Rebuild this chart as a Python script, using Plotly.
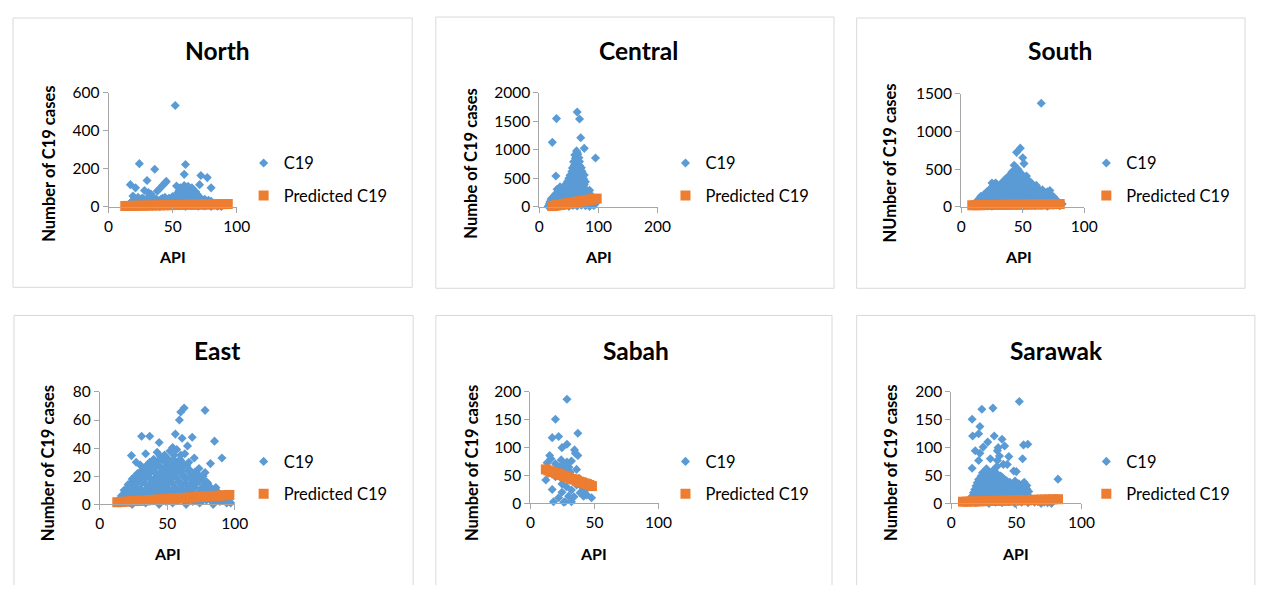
import plotly.graph_objects as go

# The page body keeps its default 8px margin, so the figure is 16px smaller
# than the 1267x593 window and every reference pixel is shifted by 8.
PAGE_W, PAGE_H = 1267, 593
OFF = 8
W, H = PAGE_W - 2 * OFF, PAGE_H - 2 * OFF

# ---------------- data (API, number of C19 cases) ----------------
north_c19 = [
    (52, 532), (24, 227), (36, 198), (60, 223), (59, 171), (72, 165), (77, 154), (30, 139),
    (17, 117), (21, 100), (38, 83), (40, 97), (42, 112), (44, 125), (45, 134), (71, 117),
    (80, 100), (28, 86), (19, 57), (31, 75), (33, 68),
    (53, 110), (56, 100), (59, 112), (62, 95), (65, 88), (68, 80), (55, 85), (58, 75),
    (61, 70), (64, 65), (67, 60), (54, 60), (57, 55), (60, 50), (63, 45), (66, 48),
    (69, 55), (72, 45), (50, 55), (47, 45), (44, 50), (41, 40), (75, 40), (78, 35),
    (35, 50), (30, 45), (26, 45), (23, 50), (20, 40), (80, 30),
    (54, 75), (57, 95), (60, 85), (63, 80), (66, 72), (69, 68), (62, 108), (58, 88), (65, 100),
    (15, 5), (20, 3), (25, 6), (30, 4), (35, 5), (40, 3), (45, 6), (50, 4), (55, 5),
    (60, 3), (65, 6), (70, 4), (75, 5), (80, 3), (85, 4), (88, 2),
    (16, 12), (21, 13), (26, 11), (31, 12), (36, 13), (41, 11), (46, 12), (51, 13),
    (56, 11), (61, 12), (66, 13), (71, 11), (76, 12), (81, 11), (86, 10),
    (17, 20), (22, 18), (27, 22), (32, 19), (37, 21), (42, 18), (47, 22), (52, 20),
    (57, 19), (62, 21), (67, 18), (72, 22), (77, 19), (82, 17),
    (18, 27), (23, 28), (28, 26), (33, 27), (38, 28), (43, 26), (48, 27), (53, 28),
    (58, 26), (63, 27), (68, 28), (73, 26), (78, 25),
    (19, 32), (24, 36), (29, 34), (34, 35), (39, 33), (44, 37), (49, 34), (54, 36),
    (59, 35), (64, 33), (69, 36), (74, 30),
    (21, 42), (27, 44), (32, 42), (37, 41), (42, 45), (48, 43), (53, 42), (58, 44),
    (63, 41), (68, 43), (71, 40),
]
north_pred = [
    (13, 5.0), (16, 5.4), (19, 5.8), (22, 6.2), (25, 6.5), (28, 6.9), (31, 7.3), (34, 7.7),
    (37, 8.1), (40, 8.4), (43, 8.8), (46, 9.2), (49, 9.6), (52, 10.0), (55, 10.3), (58, 10.7),
    (61, 11.1), (64, 11.5), (67, 11.9), (70, 12.2), (73, 12.6), (76, 13.0), (79, 13.4),
    (82, 13.8), (85, 14.1), (88, 14.5), (91, 14.9), (93, 15.2),
]

central_c19 = [
    (64, 1660), (29, 1545), (68, 1537), (22, 1130), (70, 1210), (76, 1025), (95, 855), (28, 540),
    (63, 980), (64, 950), (60, 910), (65, 920), (61, 850), (67, 860),
    (58, 790), (63, 780), (68, 795), (59, 730), (64, 740), (68, 725),
    (56, 680), (61, 690), (66, 675), (71, 685),
    (55, 620), (61, 630), (67, 610), (72, 625),
    (52, 555), (58, 560), (64, 550), (70, 545), (76, 560),
    (50, 500), (56, 510), (62, 495), (68, 505), (75, 490),
    (48, 450), (54, 455), (60, 445), (66, 460), (72, 450), (78, 440),
    (45, 400), (51, 410), (57, 395), (63, 405), (69, 400), (76, 390),
    (35, 350), (30, 310),
    (37, 320), (44, 310), (51, 330), (58, 315), (65, 325), (72, 315), (79, 305), (85, 290),
    (34, 280), (41, 270), (48, 285), (55, 275), (62, 280), (69, 270), (76, 285), (81, 265),
    (27, 220), (34, 230), (41, 225), (48, 235), (55, 220), (62, 230), (69, 220), (76, 230),
    (83, 215), (88, 200),
    (24, 175), (31, 190), (38, 180), (45, 170), (52, 185), (59, 180), (66, 175), (73, 190),
    (80, 180), (85, 170),
    (20, 140), (27, 135), (34, 145), (41, 140), (48, 130), (55, 145), (62, 140), (69, 130),
    (76, 145), (83, 135), (90, 120),
    (18, 90), (25, 110), (32, 95), (39, 105), (46, 100), (53, 90), (60, 110), (67, 95),
    (74, 105), (81, 100), (88, 90),
    (17, 55), (24, 60), (31, 50), (38, 65), (45, 55), (52, 60), (59, 50), (66, 65),
    (73, 55), (80, 60), (87, 50), (94, 45),
    (15, 10), (22, 25), (29, 15), (36, 30), (43, 20), (50, 10), (57, 25), (64, 15),
    (71, 30), (78, 20), (85, 10), (92, 25),
]
central_pred = [
    (22, 15), (25, 20), (28, 26), (31, 31), (34, 36), (37, 41), (40, 46), (43, 52),
    (46, 57), (49, 62), (52, 67), (55, 72), (58, 78), (61, 83), (64, 88), (67, 93),
    (70, 98), (73, 104), (76, 109), (79, 114), (82, 119), (85, 124), (88, 130),
    (91, 135), (94, 140), (97, 145),
]

south_c19 = [
    (65, 1372), (48, 778), (45, 722), (50, 650), (51, 573), (43, 551), (41, 458), (39, 401),
    (49, 401), (46, 500), (44, 470), (62, 231), (72, 218), (68, 188), (25, 316), (29, 295),
    (10, 20), (15, 15), (20, 25), (25, 10), (30, 20), (35, 25), (40, 15), (45, 20),
    (50, 10), (55, 25), (60, 15), (65, 20), (70, 10), (75, 25), (80, 15),
    (12, 50), (17, 45), (22, 55), (27, 50), (32, 45), (37, 55), (42, 50), (47, 45),
    (52, 55), (57, 50), (62, 45), (67, 55), (72, 50), (77, 45), (82, 40),
    (13, 80), (18, 75), (23, 85), (28, 80), (33, 70), (38, 85), (43, 80), (48, 75),
    (53, 85), (58, 80), (63, 70), (68, 80), (73, 75), (78, 80),
    (15, 110), (20, 105), (25, 115), (30, 110), (35, 105), (40, 115), (45, 110),
    (50, 105), (55, 115), (60, 110), (65, 105), (70, 115), (74, 110),
    (16, 140), (21, 135), (26, 145), (31, 140), (36, 130), (41, 145), (46, 140),
    (51, 135), (56, 145), (61, 140), (66, 130), (71, 140), (75, 135),
    (19, 170), (24, 165), (29, 175), (34, 170), (39, 165), (44, 175), (49, 170),
    (54, 165), (59, 175), (64, 170), (68, 165), (72, 175),
    (21, 200), (26, 195), (31, 205), (36, 200), (41, 190), (46, 205), (51, 200),
    (56, 195), (61, 205), (66, 190), (70, 200),
    (23, 230), (28, 225), (33, 235), (38, 230), (43, 225), (48, 235), (53, 230),
    (58, 225), (63, 235), (66, 225),
    (25, 260), (30, 255), (35, 265), (40, 260), (45, 250), (50, 265), (55, 260), (60, 250),
    (27, 290), (32, 285), (37, 295), (42, 290), (47, 285), (52, 295), (57, 290), (61, 285),
    (28, 315), (33, 320), (38, 325), (43, 320), (48, 310), (53, 320), (57, 315),
    (35, 350), (40, 345), (45, 355), (50, 350), (55, 345),
    (37, 385), (42, 380), (47, 390), (52, 375),
    (39, 410), (44, 415), (48, 405), (53, 410),
    (41, 440), (45, 450), (49, 435), (43, 480), (47, 470),
]
south_pred = [
    (9, 22), (12, 23), (15, 23), (18, 24), (21, 25), (24, 25), (27, 26), (30, 27),
    (33, 27), (36, 28), (39, 29), (42, 30), (45, 30), (48, 31), (51, 32), (54, 32),
    (57, 33), (60, 34), (63, 34), (66, 35), (69, 36), (72, 36), (75, 37), (78, 38), (80, 38),
]

east_c19 = [
    (62.5, 68.5), (60, 65.7), (78, 66.9), (59, 60), (31, 48.5), (37, 48.5), (56, 50),
    (61, 47), (68.5, 47.8), (44, 44), (85, 45), (54, 40.5), (65, 41.6), (23.5, 34.7),
    (34, 36), (42.5, 37), (90.5, 33), (27, 30), (82, 29), (73.5, 25.5), (78, 22.6), (26, 19.8),
    (57, 39), (52, 38), (48, 35), (63, 36), (70, 33), (66, 30), (60, 35), (40, 32),
    (30, 28), (75, 18), (80, 15), (86, 12), (88, 8), (91, 5), (94, 2), (97, 1),
    (14, 1), (19, 3), (24, 0), (29, 2), (34, 1), (39, 3), (44, 0), (49, 2), (54, 1),
    (59, 3), (64, 0), (69, 2), (74, 1), (79, 3), (84, 0), (89, 2), (94, 1),
    (16.5, 3), (21.5, 3.5), (26.5, 2.5), (31.5, 3), (36.5, 3.5), (41.5, 2.5), (46.5, 3),
    (51.5, 3.5), (56.5, 2.5), (61.5, 3), (66.5, 3.5), (71.5, 2.5), (76.5, 3), (81.5, 3.5),
    (86.5, 2.5), (91.5, 3), (96, 2),
    (16, 6), (21, 5), (26, 7), (31, 4), (36, 6), (41, 5), (46, 7), (51, 4), (56, 6),
    (61, 5), (66, 7), (71, 4), (76, 6), (81, 5), (86, 6), (91, 4),
    (18.5, 7.5), (23.5, 8), (28.5, 7), (33.5, 7.5), (38.5, 8), (43.5, 7), (48.5, 7.5),
    (53.5, 8), (58.5, 7), (63.5, 7.5), (68.5, 8), (73.5, 7), (78.5, 7.5), (83.5, 8), (88.5, 7),
    (18, 10), (23, 9), (28, 11), (33, 8), (38, 10), (43, 9), (48, 11), (53, 8), (58, 10),
    (63, 9), (68, 11), (73, 8), (78, 10), (83, 9), (88, 8),
    (20.5, 11.5), (25.5, 12), (30.5, 11), (35.5, 11.5), (40.5, 12), (45.5, 11), (50.5, 11.5),
    (55.5, 12), (60.5, 11), (65.5, 11.5), (70.5, 12), (75.5, 11), (80.5, 11.5), (85.5, 11),
    (21, 14), (26, 13), (31, 15), (36, 12), (41, 14), (46, 13), (51, 15), (56, 12),
    (61, 14), (66, 13), (71, 15), (76, 12), (81, 13),
    (23.5, 15.5), (28.5, 16), (33.5, 15), (38.5, 15.5), (43.5, 16), (48.5, 15), (53.5, 15.5),
    (58.5, 16), (63.5, 15), (68.5, 15.5), (73.5, 16), (78.5, 15),
    (24, 18), (29, 17), (34, 19), (39, 16), (44, 18), (49, 17), (54, 19), (59, 16),
    (64, 18), (69, 17), (74, 19), (79, 16),
    (26.5, 19.5), (31.5, 20), (36.5, 19), (41.5, 19.5), (46.5, 20), (51.5, 19), (56.5, 19.5),
    (61.5, 20), (66.5, 19), (71.5, 19.5), (76.5, 20),
    (28, 22), (33, 21), (38, 23), (43, 20), (48, 22), (53, 21), (58, 23), (63, 20),
    (68, 22), (73, 21),
    (30.5, 23.5), (35.5, 24), (40.5, 23), (45.5, 23.5), (50.5, 24), (55.5, 23), (60.5, 23.5),
    (65.5, 24), (70.5, 23),
    (32, 26), (37, 25), (42, 27), (47, 24), (52, 26), (57, 25), (62, 27), (67, 24),
    (34.5, 27.5), (39.5, 28), (44.5, 27), (49.5, 27.5), (54.5, 28), (59.5, 27), (64.5, 27.5),
    (37, 30), (42, 29), (47, 31), (52, 28), (57, 30), (62, 29),
    (39.5, 31.5), (44.5, 32), (49.5, 31), (54.5, 31.5), (59.5, 32),
    (45, 34), (50, 33), (55, 35),
]
east_pred = [
    (13, 1.5), (16, 1.7), (19, 1.9), (22, 2.1), (25, 2.3), (28, 2.4), (31, 2.6), (34, 2.8),
    (37, 3.0), (40, 3.2), (43, 3.4), (46, 3.6), (49, 3.7), (52, 3.9), (55, 4.1), (58, 4.3),
    (61, 4.5), (64, 4.7), (67, 4.9), (70, 5.0), (73, 5.2), (76, 5.4), (79, 5.6), (82, 5.8),
    (85, 6.0), (88, 6.2), (91, 6.3), (94, 6.5), (96, 6.7),
]

sabah_c19 = [
    (28.5, 187), (19.5, 151), (22, 120), (17, 118), (37, 126), (28.5, 106), (24.6, 100),
    (34.4, 96), (37, 86), (15, 86), (24, 78), (28.5, 74), (36, 61), (12, 42), (17, 25),
    (38.7, 19), (47.7, 10), (18, 3), (27, 3), (19.5, 48), (24.6, 35), (31, 42), (32, 24),
    (36, 33), (40, 30), (41.5, 13), (24.6, 20), (29.8, 13), (22, 10), (32, 3), (19.5, 71),
    (27, 70), (32, 76), (26, 59), (31, 56), (14, 54), (21, 54), (13, 73), (16, 80),
    (35, 90), (30, 65), (23, 65), (38, 45), (28, 30), (34, 12), (26, 2), (42, 22), (44, 15),
]
sabah_pred = [
    (12, 61), (14, 59), (16, 57), (18, 56), (20, 54), (22, 53), (24, 51), (26, 49),
    (28, 48), (30, 46), (32, 44), (34, 43), (36, 41), (38, 39), (40, 38), (42, 36),
    (44, 35), (46, 33), (48, 31),
]

sarawak_c19 = [
    (52.3, 183), (23.5, 169), (32, 171), (16, 151), (22, 138), (16.4, 121), (21, 125),
    (33, 121), (39, 115), (41, 103), (55.5, 105), (58.8, 106), (18.4, 94.5), (24.5, 101),
    (35.4, 94.5), (44.2, 84), (54.8, 80), (21, 77), (16, 63), (82, 43.5),
    (30, 80), (40, 70), (27, 62), (48, 58), (50, 57), (35, 66), (22, 90), (28, 110),
    (36, 100), (35.4, 77), (43, 70), (37, 85),
    (14, 2), (19, 1), (24, 3), (29, 0), (34, 2), (39, 1), (44, 3), (49, 0), (54, 2),
    (59, 1), (64, 2), (69, 0), (74, 1), (77, 0),
    (16.5, 4.5), (21.5, 4), (26.5, 5), (31.5, 4.5), (36.5, 4), (41.5, 5), (46.5, 4.5),
    (51.5, 4), (56.5, 5), (61.5, 4), (66.5, 3), (71.5, 2),
    (15, 7), (20, 8), (25, 6), (30, 8), (35, 7), (40, 6), (45, 8), (50, 7), (55, 6),
    (60, 8), (65, 5),
    (17.5, 10), (22.5, 10.5), (27.5, 9.5), (32.5, 10), (37.5, 10.5), (42.5, 9.5), (47.5, 10),
    (52.5, 10.5), (57.5, 9.5),
    (16, 13), (21, 12), (26, 14), (31, 13), (36, 12), (41, 14), (46, 13), (51, 12),
    (56, 14), (60, 11),
    (18.5, 16), (23.5, 16.5), (28.5, 15.5), (33.5, 16), (38.5, 16.5), (43.5, 15.5), (48.5, 16),
    (53.5, 16.5), (58.5, 15.5),
    (17, 19), (22, 18), (27, 20), (32, 19), (37, 18), (42, 20), (47, 19), (52, 18), (57, 20),
    (19.5, 22), (24.5, 22.5), (29.5, 21.5), (34.5, 22), (39.5, 22.5), (44.5, 21.5), (49.5, 22),
    (54.5, 22.5), (59.5, 21.5),
    (18, 25), (23, 24), (28, 26), (33, 25), (38, 24), (43, 26), (48, 25), (53, 24), (58, 26),
    (20.5, 28), (25.5, 28.5), (30.5, 27.5), (35.5, 28), (40.5, 28.5), (45.5, 27.5), (50.5, 28),
    (56.5, 28.5),
    (19, 31), (24, 30), (29, 32), (34, 31), (39, 30), (44, 32), (49, 31), (55, 29),
    (21.5, 34), (26.5, 34.5), (31.5, 33.5), (36.5, 34), (41.5, 34.5), (46.5, 33.5), (51.5, 33),
    (54, 33),
    (20, 37), (25, 36), (30, 38), (35, 37), (40, 36), (45, 38), (52, 35), (56, 38),
    (49, 40), (58, 32),
    (22.5, 40), (27.5, 40.5), (32.5, 39.5), (37.5, 40), (42.5, 40.5),
    (21, 43), (26, 42), (31, 44), (36, 43), (41, 42),
    (24.5, 46), (29.5, 46.5), (34.5, 45.5), (39.5, 46),
    (23, 49), (28, 48), (33, 50), (38, 49),
    (25.5, 52), (30.5, 52.5), (35.5, 51.5),
    (24, 55), (29, 54), (34, 56), (27, 58), (32, 59),
]
sarawak_pred = [
    (9, 3.0), (12, 3.2), (15, 3.4), (18, 3.5), (21, 3.7), (24, 3.9), (27, 4.1), (30, 4.3),
    (33, 4.5), (36, 4.6), (39, 4.8), (42, 5.0), (45, 5.2), (48, 5.4), (51, 5.6), (54, 5.7),
    (57, 5.9), (60, 6.1), (63, 6.3), (66, 6.5), (69, 6.7), (72, 6.8), (75, 7.0), (78, 7.2),
    (82, 7.5),
]

panel_titles = ["North", "Central", "South", "East", "Sabah", "Sarawak"]
y_titles = ["Number of C19 cases", "Numbe of C19 cases", "NUmber of C19 cases",
            "Number of C19 cases", "Number of C19 cases", "Number of C19 cases"]
x_title = "API"
x_ticks = [[0, 50, 100], [0, 100, 200], [0, 50, 100], [0, 50, 100], [0, 50, 100], [0, 50, 100]]
y_ticks = [[0, 200, 400, 600], [0, 500, 1000, 1500, 2000], [0, 500, 1000, 1500],
           [0, 20, 40, 60, 80], [0, 50, 100, 150, 200], [0, 50, 100, 150, 200]]
c19_sets = [north_c19, central_c19, south_c19, east_c19, sabah_c19, sarawak_c19]
pred_sets = [north_pred, central_pred, south_pred, east_pred, sabah_pred, sarawak_pred]

# ---------------- layout (pixel positions in the 1267x593 window) ----------------
plot_px = [(105, 235, 85, 203), (542, 662, 85, 203), (970, 1095, 86, 203),
           (96, 233, 394, 510), (533, 663, 394, 509), (960, 1092, 394, 509)]
box_px = [(8, 8, 413, 286), (437, 7, 841, 287), (864, 8, 1258, 287),
          (9, 315, 414, 620), (437, 315, 839, 620), (864, 315, 1268, 620)]
title_px = [(215, 42), (643, 42), (1070, 42), (215, 351), (640, 351), (1067, 351)]
ytitle_px = [(45, 158), (473, 158), (898, 158), (43, 467), (473, 467), (898, 467)]
xtitle_px = [(170, 254), (602, 254), (1028, 254), (165, 561), (597, 561), (1025, 561)]
legend_px = [(242, 174.5), (670, 174.5), (1097, 174.5), (242, 482.5), (670, 482.5), (1097, 482.5)]

BLUE = "#5B9BD5"
ORANGE = "#ED7D31"
AXIS = "#A6A6A6"
FONT = "Lato, 'Open Sans', sans-serif"


def fx(p):
    return (p - OFF) / W


def fy(p):
    return 1 - (p - OFF) / H


fig = go.Figure()
annotations = []
shapes = []
layout = dict(width=W, height=H, margin=dict(l=0, r=0, t=0, b=0),
              paper_bgcolor="white", plot_bgcolor="rgba(0,0,0,0)",
              font=dict(family=FONT, size=15, color="#000000"), showlegend=True)

for i in range(6):
    n = "" if i == 0 else str(i + 1)
    leg = "legend" + n
    xl, xr, yt, yb = plot_px[i]
    c19 = c19_sets[i]
    pred = pred_sets[i]
    fig.add_trace(go.Scatter(
        x=[p[0] for p in c19], y=[p[1] for p in c19], mode="markers", name="C19",
        marker=dict(symbol="diamond", size=7, color=BLUE, line=dict(width=0)),
        xaxis="x" + n, yaxis="y" + n, legend=leg, legendgroup="c19_" + str(i),
        cliponaxis=False, hoverinfo="x+y"))
    fig.add_trace(go.Scatter(
        x=[p[0] for p in pred], y=[p[1] for p in pred], mode="markers", name="Predicted C19",
        marker=dict(symbol="square", size=10, color=ORANGE, line=dict(width=0)),
        xaxis="x" + n, yaxis="y" + n, legend=leg, legendgroup="pred_" + str(i),
        cliponaxis=False, hoverinfo="x+y"))

    tickfont = dict(family=FONT, size=15.5, color="#000000")
    layout["xaxis" + n] = dict(
        domain=[fx(xl), fx(xr)], anchor="y" + n, range=[x_ticks[i][0], x_ticks[i][-1]],
        tickvals=x_ticks[i], showgrid=False, zeroline=False, showline=True,
        linecolor=AXIS, linewidth=1, ticks="outside", ticklen=5, tickcolor=AXIS,
        tickfont=tickfont, fixedrange=True)
    layout["yaxis" + n] = dict(
        domain=[fy(yb), fy(yt)], anchor="x" + n, range=[y_ticks[i][0], y_ticks[i][-1]],
        tickvals=y_ticks[i], showgrid=False, zeroline=False, showline=True,
        linecolor=AXIS, linewidth=1, ticks="outside", ticklen=5, tickcolor=AXIS,
        tickfont=tickfont, fixedrange=True)

    lx, ly = legend_px[i]
    layout[leg] = dict(x=fx(lx), y=fy(ly), xanchor="left", yanchor="middle",
                       xref="paper", yref="paper", bgcolor="rgba(0,0,0,0)",
                       font=dict(family=FONT, size=16.5, color="#000000"),
                       tracegroupgap=8, itemwidth=30)

    bx0, by0, bx1, by1 = box_px[i]
    shapes.append(dict(type="rect", xref="paper", yref="paper",
                       x0=fx(bx0), x1=fx(bx1), y0=fy(by1), y1=fy(by0),
                       line=dict(color="#D9D9D9", width=1), fillcolor="rgba(0,0,0,0)",
                       layer="below"))

    tx, ty = title_px[i]
    annotations.append(dict(text="<b>" + panel_titles[i] + "</b>", x=fx(tx), y=fy(ty),
                            xref="paper", yref="paper", showarrow=False,
                            xanchor="center", yanchor="middle",
                            font=dict(family=FONT, size=24.5, color="#000000")))
    ax_, ay_ = ytitle_px[i]
    annotations.append(dict(text="<b>" + y_titles[i] + "</b>", x=fx(ax_), y=fy(ay_),
                            xref="paper", yref="paper", showarrow=False, textangle=-90,
                            xanchor="center", yanchor="middle",
                            font=dict(family=FONT, size=16.5, color="#000000")))
    bx_, by_ = xtitle_px[i]
    annotations.append(dict(text="<b>" + x_title + "</b>", x=fx(bx_), y=fy(by_),
                            xref="paper", yref="paper", showarrow=False,
                            xanchor="center", yanchor="middle",
                            font=dict(family=FONT, size=16, color="#000000")))

layout["annotations"] = annotations
layout["shapes"] = shapes
fig.update_layout(**layout)

fig.write_html("out.html", config={"displayModeBar": False})
